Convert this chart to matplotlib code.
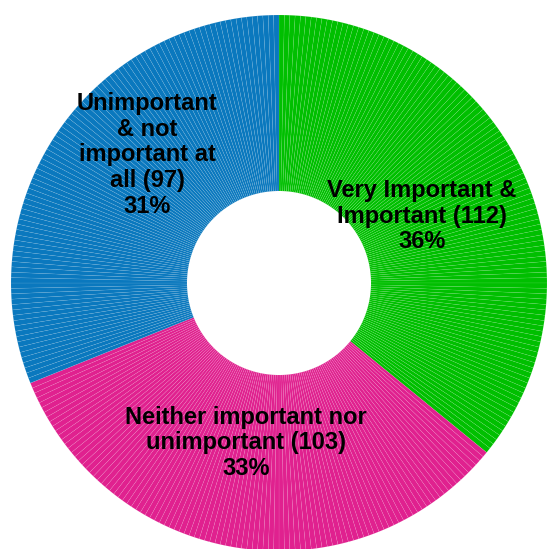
import numpy as np
import matplotlib
matplotlib.use("Agg")
import matplotlib.pyplot as plt

categories = ["Very Important &\nImportant", "Neither important nor\nunimportant", "Unimportant\n& not\nimportant at\nall"]
counts = [112, 103, 97]
colors = ["#00BF00", "#E0218F", "#0A78BE"]

total = sum(counts)
W, H = 547, 549
cx, cy, R = 279, 283, 268

fig = plt.figure(figsize=(W / 100, H / 100), dpi=100)
ax = fig.add_axes([0, 0, 1, 1])

# one wedge per respondent
ones = np.ones(total)
wcols = np.repeat(colors, counts)
ax.pie(ones, colors=wcols, startangle=90, counterclock=False,
       radius=1, wedgeprops=dict(width=1 - 92 / R, edgecolor=(1, 1, 1, 0.18), linewidth=0.3))

def px(x, y):
    return (x - cx) / R, (cy - y) / R

label_pos = [(422, 216), (246, 443), (147, 155)]
for cat, n, (x, y) in zip(categories, counts, label_pos):
    tx, ty = px(x, y)
    pct = round(100 * n / total)
    ax.text(tx, ty, "%s (%d)\n%d%%" % (cat, n, pct), ha="center", va="center",
            fontsize=17, fontweight="bold", family="Liberation Sans",
            linespacing=1.15, color="black")

ax.set_xlim(-cx / R, (W - cx) / R)
ax.set_ylim(-(H - cy) / R, cy / R)
ax.set_aspect("auto")
ax.axis("off")
fig.savefig("out.png", dpi=100)
